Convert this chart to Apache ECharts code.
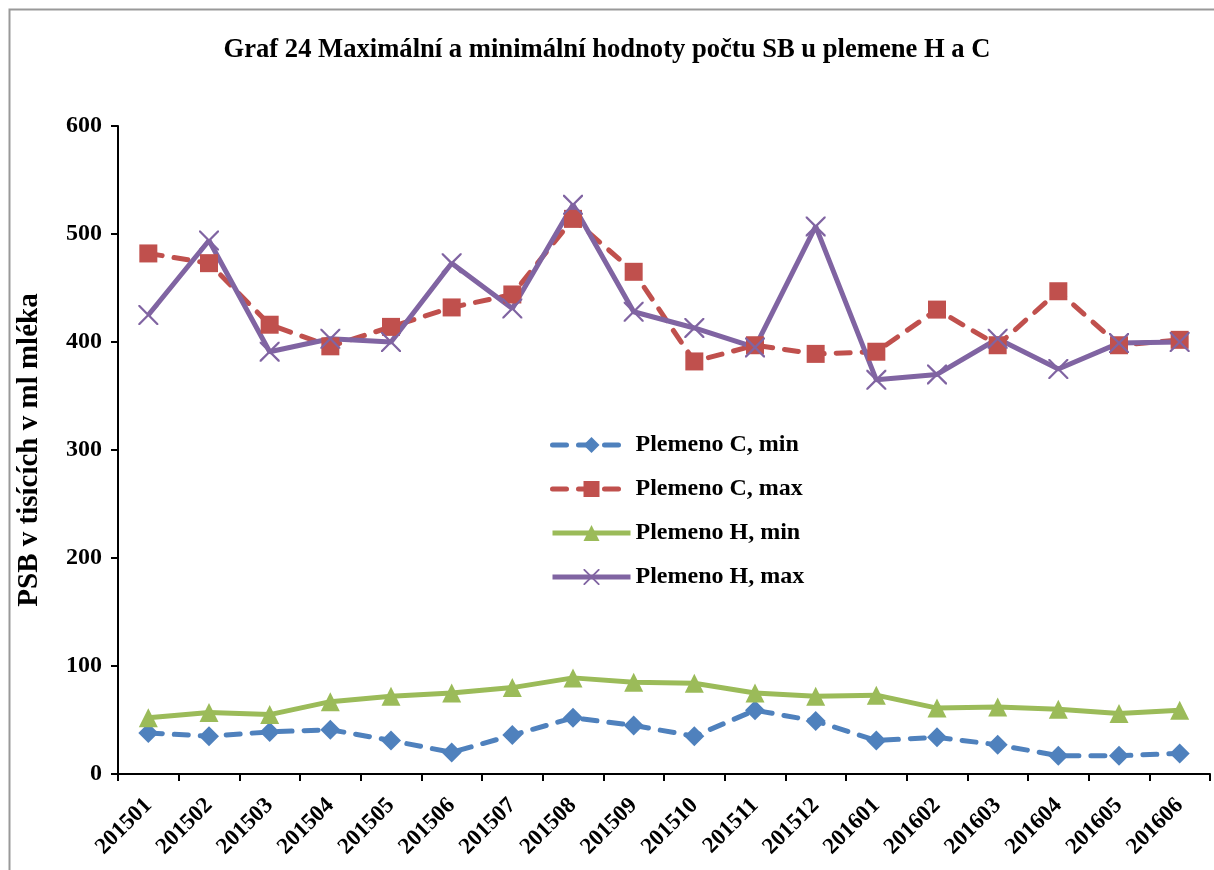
<!DOCTYPE html>
<html>
<head>
<meta charset="utf-8">
<script src="https://cdn.jsdelivr.net/npm/echarts@6/dist/echarts.min.js"></script>
<style>
html,body{margin:0;padding:0;background:#fff;}
#chart{width:1214px;height:870px;}
</style>
</head>
<body>
<div id="chart"></div>
<script>
const titleText = 'Graf 24 Maximální a minimální hodnoty počtu SB u plemene H a C';
const yAxisName = 'PSB v tisících v ml mléka';
const categories = ['201501','201502','201503','201504','201505','201506','201507','201508','201509','201510','201511','201512','201601','201602','201603','201604','201605','201606'];
const seriesNames = ['Plemeno C, min','Plemeno C, max','Plemeno H, min','Plemeno H, max'];
const cMin = [38,35,39,41,31,20,36,52,45,35,59,49,31,34,27,17,17,19];
const cMax = [482,473,416,396,414,432,444,514,465,382,397,389,391,430,397,447,397,402];
const hMin = [52,57,55,67,72,75,80,89,85,84,75,72,73,61,62,60,56,59];
const hMax = [425,494,391,403,400,473,431,527,428,413,395,507,365,370,403,375,399,400];

const serif = '"Liberation Serif","DejaVu Serif",serif';
const crossPath = 'path://M0,0L1.6,0L10,8.4L18.4,0L20,0L20,1.6L11.6,10L20,18.4L20,20L18.4,20L10,11.6L1.6,20L0,20L0,18.4L8.4,10L0,1.6Z';

const chart = echarts.init(document.getElementById('chart'));
chart.setOption({
  animation: false,
  backgroundColor: '#fff',
  title: {
    text: titleText,
    left: 'center',
    top: 32,
    textStyle: {fontFamily: serif, fontWeight: 'bold', fontSize: 26.6, color: '#000'}
  },
  graphic: [{
    type: 'rect', left: 7, top: 7, silent: true,
    shape: {width: 1400, height: 1000},
    style: {fill: 'none', stroke: '#999', lineWidth: 2}
  }],
  legend: {
    orient: 'vertical',
    left: 545,
    top: 428,
    itemWidth: 78,
    itemHeight: 20,
    itemGap: 20,
    data: seriesNames,
    lineStyle: {width: 5},
    textStyle: {fontFamily: serif, fontWeight: 'bold', fontSize: 24, lineHeight: 24, color: '#000'}
  },
  grid: {left: 118, right: 4, top: 126, bottom: 96, containLabel: false},
  xAxis: {
    type: 'category',
    data: categories,
    boundaryGap: true,
    axisLine: {lineStyle: {color: '#000', width: 2}},
    axisTick: {show: true, length: 7, lineStyle: {color: '#000', width: 2}},
    axisLabel: {rotate: 45, fontFamily: serif, fontWeight: 'bold', fontSize: 23, color: '#000', margin: 28, interval: 0},
    splitLine: {show: false}
  },
  yAxis: {
    type: 'value',
    min: 0, max: 600, interval: 100,
    name: yAxisName,
    nameLocation: 'middle',
    nameGap: 74,
    nameTextStyle: {fontFamily: serif, fontWeight: 'bold', fontSize: 29, color: '#000'},
    axisLine: {show: true, lineStyle: {color: '#000', width: 2}},
    axisTick: {show: true, length: 7, lineStyle: {color: '#000', width: 2}},
    axisLabel: {fontFamily: serif, fontWeight: 'bold', fontSize: 24, color: '#000', margin: 16},
    splitLine: {show: false}
  },
  series: [
    {
      name: seriesNames[0], type: 'line', data: cMin,
      symbol: 'diamond', symbolSize: 20,
      lineStyle: {color: '#4F81BD', width: 5, type: [14, 12], cap: 'round'},
      itemStyle: {color: '#4F81BD'}
    },
    {
      name: seriesNames[1], type: 'line', data: cMax,
      symbol: 'rect', symbolSize: 18,
      lineStyle: {color: '#C0504D', width: 5, type: [14, 12], cap: 'round'},
      itemStyle: {color: '#C0504D'}
    },
    {
      name: seriesNames[2], type: 'line', data: hMin,
      symbol: 'triangle', symbolSize: 19,
      lineStyle: {color: '#9BBB59', width: 5},
      itemStyle: {color: '#9BBB59'}
    },
    {
      name: seriesNames[3], type: 'line', data: hMax,
      symbol: crossPath, symbolSize: 20,
      lineStyle: {color: '#8064A2', width: 5},
      itemStyle: {color: '#8064A2'}
    }
  ]
});
</script>
</body>
</html>
